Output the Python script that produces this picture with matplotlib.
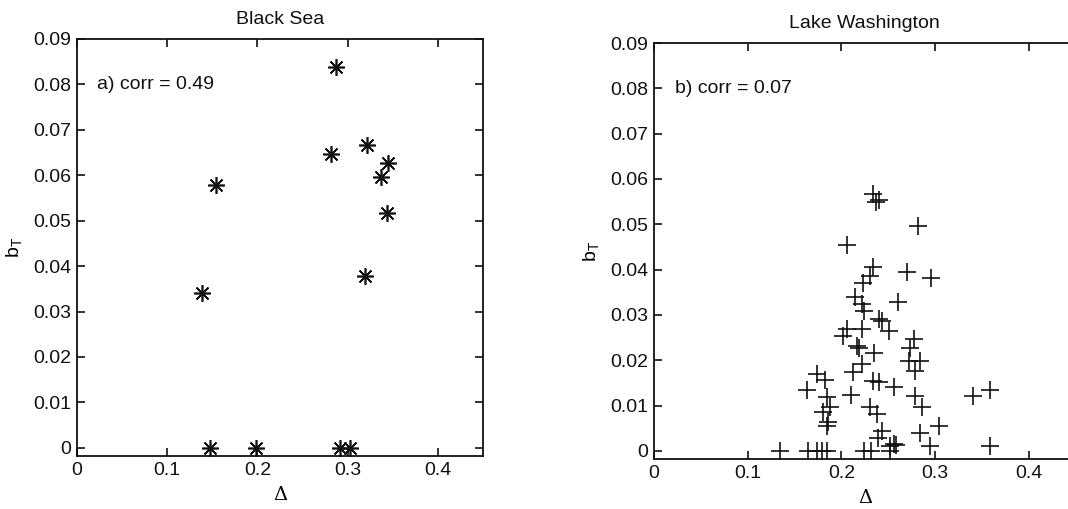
import matplotlib.pyplot as plt
from matplotlib.ticker import FuncFormatter

plt.rcParams['font.family'] = ['Liberation Sans', 'DejaVu Sans']

# Black Sea (panel a)
black_sea_delta = [0.287, 0.281, 0.321, 0.345, 0.337, 0.343, 0.319, 0.154, 0.139,
                   0.147, 0.198, 0.292, 0.303]
black_sea_bt = [0.0838, 0.0647, 0.0667, 0.0627, 0.0597, 0.0517, 0.0378, 0.0578, 0.0340,
                0.0, 0.0, 0.0, 0.0]

# Lake Washington (panel b)
lake_wa_delta = [0.234, 0.2396, 0.237, 0.282, 0.206, 0.2335, 0.230, 0.2235, 0.270, 0.2955,
                 0.260, 0.214, 0.2217, 0.2242, 0.2403, 0.2431, 0.2503, 0.2064, 0.2021, 0.2217,
                 0.2164, 0.2189, 0.2349, 0.277, 0.2734, 0.2717, 0.2841, 0.2788, 0.2217, 0.2128,
                 0.1736, 0.1825, 0.1636, 0.2342, 0.2396, 0.2556, 0.210, 0.1843, 0.1879, 0.1807,
                 0.1861, 0.1843, 0.2307, 0.2378, 0.2788, 0.2859, 0.3037, 0.2841, 0.2431, 0.2385,
                 0.2556, 0.2520, 0.2585, 0.2948, 0.3405, 0.3583, 0.3583,
                 0.1344, 0.1647, 0.1736, 0.1797, 0.1843, 0.2242, 0.2314, 0.2520]
lake_wa_bt = [0.0567, 0.0554, 0.0550, 0.0496, 0.0454, 0.0405, 0.0385, 0.0370, 0.0394, 0.0381,
              0.0329, 0.0339, 0.0323, 0.0309, 0.0291, 0.0286, 0.0265, 0.0269, 0.0254, 0.0269,
              0.0232, 0.0228, 0.0217, 0.0247, 0.0228, 0.0199, 0.0199, 0.0177, 0.0191, 0.0173,
              0.0169, 0.0157, 0.0134, 0.0155, 0.0151, 0.0141, 0.0123, 0.0118, 0.0096, 0.0085,
              0.0063, 0.0055, 0.0096, 0.0081, 0.0122, 0.0096, 0.0055, 0.0040, 0.0044, 0.0029,
              0.0015, 0.0011, 0.0013, 0.0011, 0.0120, 0.0135, 0.0011,
              0.0, 0.0, 0.0, 0.0, 0.0, 0.0, 0.0, 0.0]

x_ticks = [0, 0.1, 0.2, 0.3, 0.4]
y_ticks = [0, 0.01, 0.02, 0.03, 0.04, 0.05, 0.06, 0.07, 0.08, 0.09]

fig = plt.figure(figsize=(10.68, 5.09), dpi=100)
ax_a = fig.add_axes([0.0721, 0.1041, 0.3802, 0.8193])
ax_b = fig.add_axes([0.6124, 0.0982, 0.3948, 0.8173])

fmt = FuncFormatter(lambda v, pos: '%g' % v)

# MATLAB-style asterisk: 8 thin spokes
asterisk = (8, 2, 0)

panels = [
    (ax_a, black_sea_delta, black_sea_bt, asterisk, 12, 'Black Sea', 'a) corr = 0.49'),
    (ax_b, lake_wa_delta, lake_wa_bt, '+', 12.5, 'Lake Washington', 'b) corr = 0.07'),
]

for ax, xs, ys, marker, msize, title, note in panels:
    # Plotting the points
    ax.plot(xs, ys, linestyle='none', marker=marker, color='#111111',
            markersize=msize, markeredgewidth=1.2)

    ax.set_xlim(0, 0.45)
    ax.set_ylim(-0.0018, 0.09)
    ax.set_xticks(x_ticks)
    ax.set_yticks(y_ticks)
    ax.xaxis.set_major_formatter(fmt)
    ax.yaxis.set_major_formatter(fmt)
    ax.tick_params(direction='in', length=6, width=1.2, top=True, right=True,
                   labelsize=14, colors='#111111', pad=4)
    for spine in ax.spines.values():
        spine.set_linewidth(1.3)
        spine.set_color('#111111')

    ax.set_title(title, fontsize=14, color='#111111', pad=11)
    ax.set_xlabel('Δ', fontsize=14, family=['DejaVu Serif'], labelpad=5)
    ax.set_ylabel('b$_\\mathregular{T}$', fontsize=14, labelpad=6)
    ax.text(0.022, 0.08, note, fontsize=14, va='center', color='#111111')

fig.savefig('out.png', dpi=100)
